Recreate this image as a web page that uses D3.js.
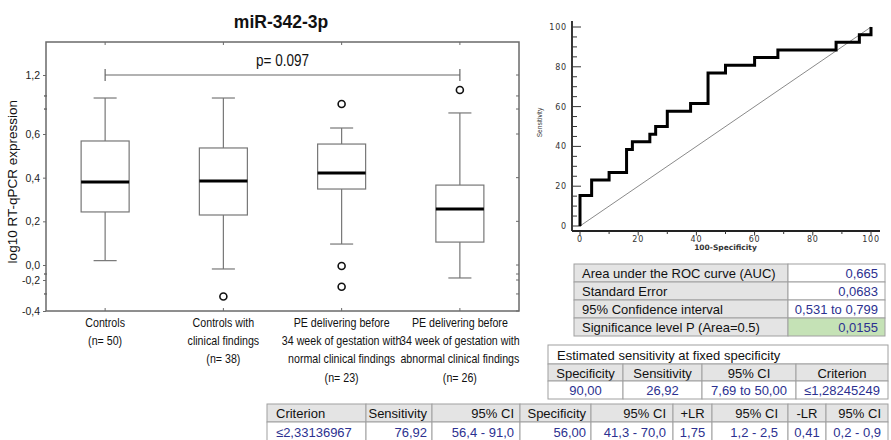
<!DOCTYPE html>
<html>
<head>
<meta charset="utf-8">
<script src="https://cdn.jsdelivr.net/npm/d3@7"></script>
<style>
  html, body { margin: 0; padding: 0; background: #fff; }
  svg { display: block; }
  text { font-family: "Liberation Sans", Arial, sans-serif; }
</style>
</head>
<body>
<svg id="chart" width="891" height="440"></svg>
<script>
// ---------- box plot data (log10 RT-qPCR expression of miR-342-3p) ----------
const groups = ["controls", "controlsClinical", "peNormal", "peAbnormal"];
const groupLabels = [
  ["Controls", "(n= 50)"],
  ["Controls with", "clinical findings", "(n= 38)"],
  ["PE delivering before", "34 week of gestation with", "normal clinical findings", "(n= 23)"],
  ["PE delivering before", "34 week of gestation with", "abnormal clinical findings", "(n= 26)"]
];
const whiskerLow  = [0.02, -0.053, 0.096, -0.173];
const quartile1   = [0.243, 0.229, 0.348, 0.105];
const medians     = [0.380, 0.385, 0.421, 0.257];
const quartile3   = [0.568, 0.536, 0.554, 0.366];
const whiskerHigh = [0.966, 0.966, 0.661, 0.814];
const outliers    = [[], [-0.306], [0.905, -0.013, -0.244], [1.048]];
const yTicks      = [-0.4, -0.2, 0.0, 0.2, 0.4, 0.6, 1.2];
const yMinorTicks = [-0.12, -0.29, 0.854, 0.987];
const pValueText  = "p= 0.097";
const bracketLevel = 1.2;

// ---------- ROC curve data ----------
const rocFpr = [0, 0, 4, 10, 16, 18, 24, 26, 30, 38, 44, 50, 60, 68, 88, 96, 100];
const rocTpr = [0, 15.38, 23.08, 26.92, 38.46, 42.31, 46.15, 50.00, 57.69, 61.54,
                76.92, 80.77, 84.62, 88.46, 92.31, 96.15, 100];
const rocMajorTicks = [0, 20, 40, 60, 80, 100];

// ---------- ROC statistics tables ----------
const aucLabels = ["Area under the ROC curve (AUC)", "Standard Error",
                   "95% Confidence interval", "Significance level P (Area=0.5)"];
const aucValues = ["0,665", "0,0683", "0,531 to 0,799", "0,0155"];
const fixedTitle = "Estimated sensitivity at fixed specificity";
const fixedHeader = ["Specificity", "Sensitivity", "95% CI", "Criterion"];
const fixedValues = ["90,00", "26,92", "7,69 to 50,00", "\u22641,28245249"];
const critHeader = ["Criterion", "Sensitivity", "95% CI", "Specificity", "95% CI",
                    "+LR", "95% CI", "-LR", "95% CI"];
const critValues = ["\u22642,33136967", "76,92", "56,4 - 91,0", "56,00", "41,3 - 70,0",
                    "1,75", "1,2 - 2,5", "0,41", "0,2 - 0,9"];

const svg = d3.select("#chart");
const comma = d3.formatLocale({decimal: ",", thousands: ".", grouping: [3], currency: ["", ""], minus: "-"});

// condensed text: regular sans squeezed horizontally
const NARROW = 0.82;
function narrowText(parent, x, y, lines, size, anchor, lineH, rotate) {
  const g = parent.append("g")
    .attr("transform", `translate(${x},${y})` + (rotate ? ` rotate(${rotate})` : "") + ` scale(${NARROW},1)`);
  const t = g.append("text").attr("text-anchor", anchor).attr("font-size", size).attr("fill", "#111");
  lines.forEach((line, k) => t.append("tspan").attr("x", 0).attr("y", k * (lineH || 0)).text(line));
  return t;
}

// =================== BOX PLOT ===================
const bp = {left: 46, right: 519, top: 42, bottom: 311};
const x = d3.scaleBand().domain(groups).range([bp.left, bp.right]).padding(0);
const cx = g => x(g) + x.bandwidth() / 2;
// broken value axis: the region above 0,6 and below 0,0 is compressed
const y = d3.scaleLinear()
  .domain([-0.4, -0.2, 0, 0.6, 1.2, 1.535])
  .range([bp.bottom, 280, 265, 134, 75, bp.top]);

const boxW = x.bandwidth() * 0.406;
const capW = x.bandwidth() * 0.195;
const frameColor = "#6a6a6a";

svg.append("text")
  .attr("x", 281).attr("y", 28)
  .attr("text-anchor", "middle")
  .attr("font-size", 17.5).attr("font-weight", "bold")
  .attr("fill", "#111")
  .text("miR-342-3p");

// frame
svg.append("rect")
  .attr("x", bp.left).attr("y", bp.top)
  .attr("width", bp.right - bp.left).attr("height", bp.bottom - bp.top)
  .attr("fill", "none").attr("stroke", frameColor).attr("stroke-width", 1.5);

// left axis
const leftAxis = d3.axisLeft(y).tickValues(yTicks).tickSize(3).tickPadding(3)
  .tickFormat(comma.format(".1f"));
const gl = svg.append("g").attr("transform", `translate(${bp.left},0)`).call(leftAxis);
gl.select(".domain").remove();
gl.selectAll(".tick line").attr("stroke", frameColor);
gl.selectAll(".tick text").attr("font-size", 10.5).attr("fill", "#222")
  .style("font-family", "'Liberation Sans', Arial, sans-serif");
gl.selectAll(".minor").data(yMinorTicks).enter().append("line")
  .attr("x1", -2).attr("x2", 1).attr("y1", d => y(d)).attr("y2", d => y(d))
  .attr("stroke", frameColor).attr("stroke-width", 1.5);

// right axis ticks (inside)
const gr = svg.append("g").attr("transform", `translate(${bp.right},0)`);
gr.selectAll("line").data(yTicks.concat(yMinorTicks)).enter().append("line")
  .attr("x1", -3).attr("x2", 0).attr("y1", d => y(d)).attr("y2", d => y(d))
  .attr("stroke", frameColor);

// top and bottom category ticks
svg.selectAll(".ctick-top").data(groups).enter().append("line")
  .attr("x1", cx).attr("x2", cx).attr("y1", bp.top).attr("y2", bp.top + 3)
  .attr("stroke", frameColor);
svg.selectAll(".ctick-bot").data(groups).enter().append("line")
  .attr("x1", cx).attr("x2", cx).attr("y1", bp.bottom).attr("y2", bp.bottom - 3)
  .attr("stroke", frameColor);

// y title
svg.append("text")
  .attr("transform", `translate(17,${(y(-0.05) + y(1.0)) / 2}) rotate(-90)`)
  .attr("text-anchor", "middle")
  .attr("font-size", 13.5).attr("fill", "#111")
  .text("log10 RT-qPCR expression");

// significance bracket
const bracketY = y(bracketLevel);
const bx1 = cx(groups[0]), bx2 = cx(groups[3]);
svg.append("path")
  .attr("d", `M${bx1},${bracketY - 6}V${bracketY + 6}M${bx1},${bracketY}H${bx2}M${bx2},${bracketY - 6}V${bracketY + 6}`)
  .attr("fill", "none").attr("stroke", "#666").attr("stroke-width", 1.2);
narrowText(svg, (bx1 + bx2) / 2, bracketY - 9, [pValueText], 16.5, "middle");

// boxes
const boxes = svg.selectAll(".box").data(groups).enter().append("g").attr("class", "box");
boxes.append("line") // upper whisker
  .attr("x1", cx).attr("x2", cx)
  .attr("y1", (d, i) => y(quartile3[i])).attr("y2", (d, i) => y(whiskerHigh[i]))
  .attr("stroke", "#777").attr("stroke-width", 1.2);
boxes.append("line") // lower whisker
  .attr("x1", cx).attr("x2", cx)
  .attr("y1", (d, i) => y(quartile1[i])).attr("y2", (d, i) => y(whiskerLow[i]))
  .attr("stroke", "#777").attr("stroke-width", 1.2);
boxes.append("line")
  .attr("x1", d => cx(d) - capW / 2).attr("x2", d => cx(d) + capW / 2)
  .attr("y1", (d, i) => y(whiskerHigh[i])).attr("y2", (d, i) => y(whiskerHigh[i]))
  .attr("stroke", "#777").attr("stroke-width", 1.2);
boxes.append("line")
  .attr("x1", d => cx(d) - capW / 2).attr("x2", d => cx(d) + capW / 2)
  .attr("y1", (d, i) => y(whiskerLow[i])).attr("y2", (d, i) => y(whiskerLow[i]))
  .attr("stroke", "#777").attr("stroke-width", 1.2);
boxes.append("rect")
  .attr("x", d => cx(d) - boxW / 2).attr("width", boxW)
  .attr("y", (d, i) => y(quartile3[i]))
  .attr("height", (d, i) => y(quartile1[i]) - y(quartile3[i]))
  .attr("fill", "#fff").attr("stroke", "#777").attr("stroke-width", 1.2);
boxes.append("line")
  .attr("x1", d => cx(d) - boxW / 2).attr("x2", d => cx(d) + boxW / 2)
  .attr("y1", (d, i) => y(medians[i])).attr("y2", (d, i) => y(medians[i]))
  .attr("stroke", "#000").attr("stroke-width", 3);
boxes.each(function (d, i) {
  d3.select(this).selectAll("circle").data(outliers[i]).enter().append("circle")
    .attr("cx", cx(d)).attr("cy", v => y(v)).attr("r", 3.5)
    .attr("fill", "none").attr("stroke", "#111").attr("stroke-width", 1.6);
});

// category labels
groups.forEach((g, i) => {
  narrowText(svg, cx(g), 327, groupLabels[i], 13, "middle", 18.2);
});

// =================== ROC CURVE ===================
const rx = d3.scaleLinear().domain([0, 100]).range([580, 871]);
const ry = d3.scaleLinear().domain([0, 100]).range([226, 27]);
const axisX = 572, axisY = 231;
const axisColor = "#222";

svg.append("line").attr("x1", axisX).attr("x2", axisX).attr("y1", 21).attr("y2", axisY)
  .attr("stroke", axisColor).attr("stroke-width", 1.8);
svg.append("line").attr("x1", axisX).attr("x2", 880).attr("y1", axisY).attr("y2", axisY)
  .attr("stroke", axisColor).attr("stroke-width", 1.8);

const yMinor = d3.range(0, 101, 5);
svg.selectAll(".rytick").data(yMinor).enter().append("line")
  .attr("x1", axisX).attr("x2", d => axisX + (d % 20 === 0 ? 9 : 5))
  .attr("y1", d => ry(d)).attr("y2", d => ry(d))
  .attr("stroke", "#333").attr("stroke-width", 1);
const xMinor = d3.range(0, 101, 10);
svg.selectAll(".rxtick").data(xMinor).enter().append("line")
  .attr("x1", d => rx(d)).attr("x2", d => rx(d))
  .attr("y1", axisY).attr("y2", d => axisY + (d % 20 === 0 ? 4.5 : 3))
  .attr("stroke", "#333").attr("stroke-width", 1);

svg.selectAll(".rylab").data(rocMajorTicks).enter().append("text")
  .attr("x", 567).attr("y", d => ry(d) + 3)
  .attr("text-anchor", "end").attr("font-size", 8).attr("letter-spacing", 0.8)
  .attr("fill", "#333").style("font-family", "'DejaVu Sans', sans-serif")
  .text(d => d);
svg.selectAll(".rxlab").data(rocMajorTicks).enter().append("text")
  .attr("x", d => rx(d)).attr("y", 242)
  .attr("text-anchor", "middle").attr("font-size", 8).attr("letter-spacing", 0.8)
  .attr("fill", "#333").style("font-family", "'DejaVu Sans', sans-serif")
  .text(d => d);
svg.append("text")
  .attr("x", (rx(0) + rx(100)) / 2).attr("y", 250)
  .attr("text-anchor", "middle").attr("font-size", 7.5).attr("font-weight", "bold")
  .attr("fill", "#333").style("font-family", "'DejaVu Sans', sans-serif")
  .text("100-Specificity");
narrowText(svg, 542, ry(52), ["Sensitivity"], 8, "middle", 0, -90).attr("fill", "#333");

// chance diagonal
svg.append("line")
  .attr("x1", rx(0)).attr("y1", ry(0)).attr("x2", rx(100)).attr("y2", ry(100))
  .attr("stroke", "#8a8a8a").attr("stroke-width", 1);

const rocPoints = rocFpr.map((f, i) => [f, rocTpr[i]]);
svg.append("path")
  .datum(rocPoints)
  .attr("d", d3.line().x(d => rx(d[0])).y(d => ry(d[1])).curve(d3.curveStepAfter))
  .attr("fill", "none").attr("stroke", "#000").attr("stroke-width", 3)
  .attr("stroke-linejoin", "miter");

// =================== TABLES ===================
const gridColor = "#a0a0a0";
const headBg = "#e4e4e4";
const blue = "#2c3190";
const green = "#c5e2b6";

function cell(x0, x1, y0, y1, fill, label, anchor, color, pad) {
  svg.append("rect").attr("x", x0).attr("y", y0).attr("width", x1 - x0).attr("height", y1 - y0)
    .attr("fill", fill).attr("stroke", gridColor).attr("stroke-width", 1);
  const tx = anchor === "start" ? x0 + pad : anchor === "end" ? x1 - pad : (x0 + x1) / 2;
  svg.append("text").attr("x", tx).attr("y", (y0 + y1) / 2 + 5)
    .attr("text-anchor", anchor).attr("font-size", 13).attr("fill", color)
    .text(label);
}

// AUC summary
const t1Cols = [574, 788, 885];
const t1Rows = [264, 282, 300, 318, 336];
aucLabels.forEach((lab, i) => {
  cell(t1Cols[0], t1Cols[1], t1Rows[i], t1Rows[i + 1], headBg, lab, "start", "#111", 8);
  cell(t1Cols[1], t1Cols[2], t1Rows[i], t1Rows[i + 1], i === aucLabels.length - 1 ? green : "#fff",
       aucValues[i], "end", blue, 7);
});

// sensitivity at fixed specificity
const t2Cols = [548, 623, 702, 796, 888];
const t2Rows = [345, 364, 381, 399];
cell(t2Cols[0], t2Cols[4], t2Rows[0], t2Rows[1], "#fff", fixedTitle, "start", "#111", 9);
fixedHeader.forEach((h, i) => {
  cell(t2Cols[i], t2Cols[i + 1], t2Rows[1], t2Rows[2], headBg, h, "middle", "#111", 0);
  cell(t2Cols[i], t2Cols[i + 1], t2Rows[2], t2Rows[3], "#fff", fixedValues[i], "middle", blue, 0);
});

// criterion values
const t3Cols = [267, 366, 432, 520, 591, 673, 712, 788, 826, 888];
const t3Rows = [404, 422, 441];
const t3Align = ["start", "end", "end", "end", "end", "middle", "end", "middle", "end"];
const t3Pad = [9, 5, 6, 5, 7, 0, 10, 0, 7];
critHeader.forEach((h, i) => {
  cell(t3Cols[i], t3Cols[i + 1], t3Rows[0], t3Rows[1], headBg, h, t3Align[i], "#111", t3Pad[i]);
  cell(t3Cols[i], t3Cols[i + 1], t3Rows[1], t3Rows[2], "#fff", critValues[i], t3Align[i], blue, t3Pad[i]);
});
</script>
</body>
</html>
